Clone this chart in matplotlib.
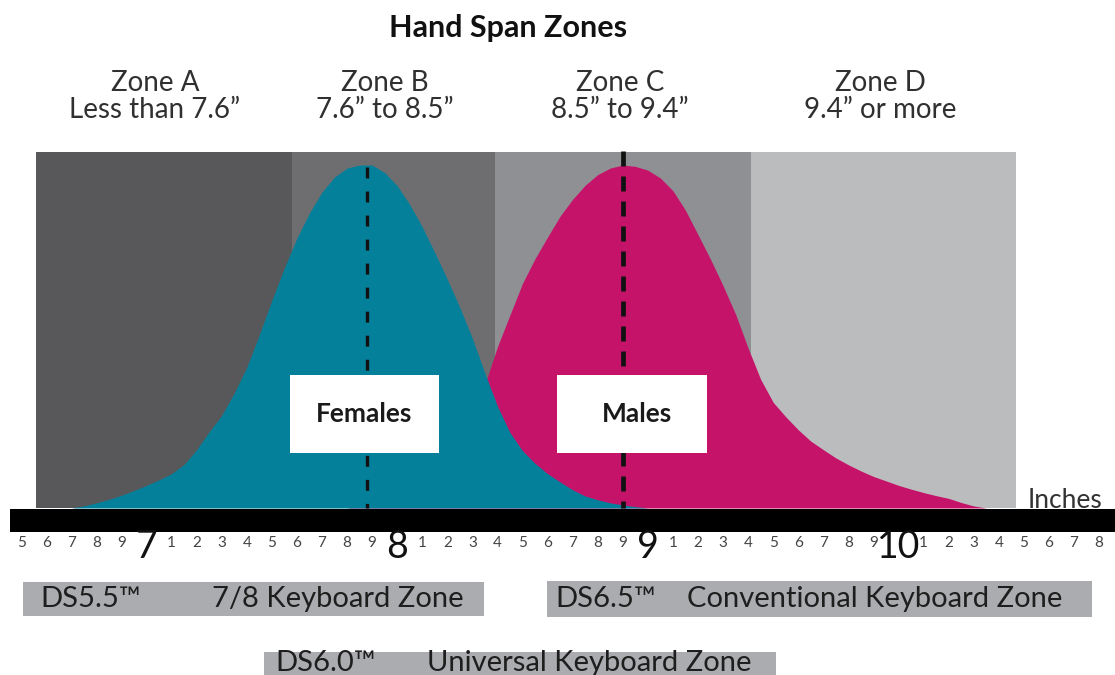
import numpy as np
import matplotlib
matplotlib.use("Agg")
import matplotlib.pyplot as plt
from matplotlib.patches import Rectangle

plt.rcParams['font.family'] = ['Lato', 'DejaVu Sans']
plt.rcParams['lines.scale_dashes'] = False

# ---------------- data ----------------
title = "Hand Span Zones"
zone_names = ["Zone A", "Zone B", "Zone C", "Zone D"]
zone_ranges = ["Less than 7.6\u201d", "7.6\u201d to 8.5\u201d", "8.5\u201d to 9.4\u201d", "9.4\u201d or more"]
zone_edges = [6.56, 7.58, 8.39, 9.41, 10.47]
zone_colors = ["#58585a", "#6e6e71", "#8f9093", "#bbbcbe"]

female_x = [6.70, 6.75, 6.80, 6.85, 6.90, 6.95, 7.00, 7.05, 7.10, 7.15, 7.20, 7.25,
            7.30, 7.35, 7.40, 7.45, 7.50, 7.55, 7.60, 7.65, 7.70, 7.75, 7.80, 7.85,
            7.90, 7.95, 8.00, 8.05, 8.10, 8.15, 8.20, 8.25, 8.30, 8.35, 8.40, 8.45,
            8.50, 8.55, 8.60, 8.65, 8.70, 8.75, 8.80, 8.85, 8.90, 8.95, 9.00]
female_h = [0.0, 0.006, 0.015, 0.025, 0.037, 0.051, 0.066, 0.082, 0.10, 0.127, 0.17, 0.222,
            0.27, 0.335, 0.41, 0.505, 0.605, 0.70, 0.787, 0.86, 0.921, 0.965, 0.991, 1.0,
            1.0, 0.978, 0.94, 0.885, 0.82, 0.745, 0.667, 0.585, 0.495, 0.393, 0.297, 0.22,
            0.167, 0.13, 0.10, 0.076, 0.053, 0.035, 0.024, 0.015, 0.009, 0.004, 0.0]
male_x = [7.80, 7.90, 8.00, 8.10, 8.20, 8.25, 8.30, 8.35, 8.40, 8.45, 8.50, 8.55,
          8.60, 8.65, 8.70, 8.75, 8.80, 8.85, 8.90, 8.95, 9.00, 9.05, 9.10, 9.15,
          9.20, 9.25, 9.30, 9.35, 9.40, 9.45, 9.50, 9.55, 9.60, 9.65, 9.70, 9.75,
          9.80, 9.85, 9.90, 9.95, 10.00, 10.05, 10.10, 10.15, 10.20, 10.25, 10.30, 10.35]
male_h = [0.0, 0.015, 0.04, 0.09, 0.16, 0.21, 0.27, 0.36, 0.47, 0.563, 0.655, 0.727,
          0.79, 0.851, 0.90, 0.941, 0.972, 0.991, 1.0, 0.996, 0.985, 0.962, 0.925, 0.868,
          0.797, 0.725, 0.648, 0.565, 0.466, 0.375, 0.308, 0.266, 0.228, 0.195, 0.17, 0.146,
          0.126, 0.108, 0.092, 0.079, 0.066, 0.055, 0.045, 0.036, 0.028, 0.016, 0.006, 0.0]
female_mean = 7.88
male_mean = 8.90
series_labels = ["Females", "Males"]

ruler_start, ruler_end = 6.5, 10.8
keyboard_zones = [("DS5.5\u2122", "7/8 Keyboard Zone"),
                  ("DS6.5\u2122", "Conventional Keyboard Zone"),
                  ("DS6.0\u2122", "Universal Keyboard Zone")]
axis_unit = "Inches"

# ---------------- styling ----------------
TEAL = "#05809b"
MAGENTA = "#c6136a"
BOXGRAY = "#abacaf"
TXT = "#303030"

W, H = 1115, 675
fig = plt.figure(figsize=(W / 100, H / 100), dpi=100)
ax = fig.add_axes([0, 0, 1, 1])

# pixel -> data helpers (layout only)
SX = 250.7
def X(px):
    return 8.5 + (px - 522.5) / SX
def Y(py):
    return (508 - py) / 343.0

ax.set_xlim(X(0), X(W))
ax.set_ylim(Y(H), Y(0))
ax.axis('off')

# zones
zone_top = Y(152)
for i in range(4):
    ax.bar(zone_edges[i], zone_top, width=zone_edges[i + 1] - zone_edges[i],
           bottom=0, align='edge', color=zone_colors[i], linewidth=0, zorder=1)
zone_label_x = [X(155), X(385), X(620), X(880)]
for i in range(4):
    ax.text(zone_label_x[i], Y(83), zone_names[i], ha='center', va='center',
            fontsize=20, color=TXT)
    ax.text(zone_label_x[i], Y(110), zone_ranges[i], ha='center', va='center',
            fontsize=20, color=TXT)

# curves
ax.fill_between(male_x, male_h, 0, color=MAGENTA, linewidth=0, zorder=2)
ax.fill_between(female_x, female_h, 0, color=TEAL, linewidth=0, zorder=3)

# mean lines
ax.plot([female_mean, female_mean], [Y(167), 0], color="#111111", lw=2.4,
        linestyle=(0, (7.9, 9.4)), zorder=4, dash_capstyle='butt')
ax.plot([male_mean, male_mean], [Y(151), 0], color="#111111", lw=3.4,
        linestyle=(0, (10.8, 7.2)), zorder=4, dash_capstyle='butt')

# series label boxes
for (l, r, cx), lab in zip([(290, 439, 364), (557, 707, 637)], series_labels):
    ax.add_patch(Rectangle((X(l), Y(453)), X(r) - X(l), Y(375) - Y(453),
                           facecolor='white', edgecolor='none', zorder=5))
    ax.text(X(cx), Y(414), lab, ha='center', va='center', fontsize=19,
            fontweight='bold', color="#1a1a1a", zorder=6)

# ruler bar
ax.add_patch(Rectangle((X(10), Y(532)), X(W + 5) - X(10), Y(509) - Y(532),
                       facecolor='black', edgecolor='none', zorder=6))
ax.text(X(1028), Y(508), axis_unit, ha='left', va='baseline', fontsize=19,
        color="#333333", zorder=7)

ticks = np.round(np.arange(round(ruler_start * 10), round(ruler_end * 10) + 1) / 10, 1)
for t in ticks:
    tenths = int(round(t * 10)) % 10
    if tenths == 0:
        ax.text(t, Y(547), str(int(round(t))), ha='center', va='center', fontsize=27,
                color="#111111", zorder=7)
    else:
        ax.text(t, Y(543), str(tenths), ha='center', va='center', fontsize=11,
                color="#444444", zorder=7)

# keyboard zone boxes
boxes = [(23, 484, 582, 616, 40, 212, 599),
         (547, 1092, 581, 617, 555, 687, 599),
         (264, 776, 652, 690, 275, 427, 663)]
for (l, r, t_, b, tx1, tx2, ty), (code, name) in zip(boxes, keyboard_zones):
    ax.add_patch(Rectangle((X(l), Y(b)), X(r) - X(l), Y(t_) - Y(b),
                           facecolor=BOXGRAY, edgecolor='none', zorder=1))
    ax.text(X(tx1), Y(ty), code, ha='left', va='center', fontsize=21, color="#1e1e1e")
    ax.text(X(tx2), Y(ty), name, ha='left', va='center', fontsize=21, color="#1e1e1e")

ax.text(X(508), Y(28), title, ha='center', va='center', fontsize=22,
        fontweight='bold', color="#111111")

fig.savefig("out.png", dpi=100)
